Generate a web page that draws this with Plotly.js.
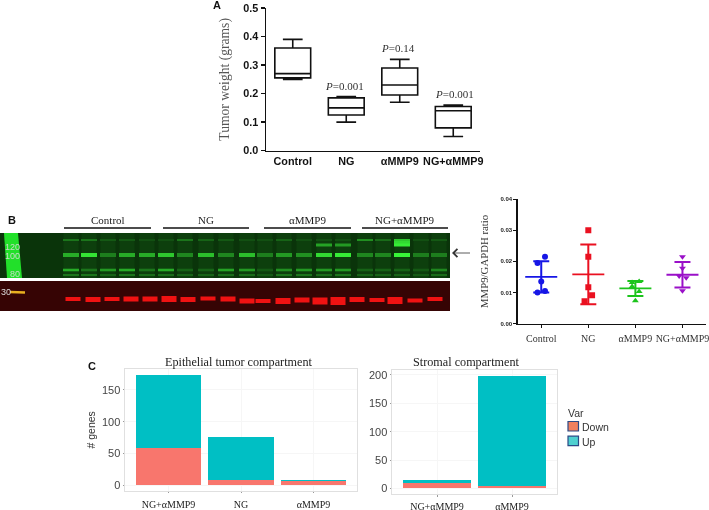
<!DOCTYPE html>
<html><head><meta charset="utf-8">
<script src="https://cdn.plot.ly/plotly-3.0.1.min.js"></script>
<style>html,body{margin:0;padding:0;background:#fff}#c{width:709px;height:510px;filter:blur(0.45px)}</style>
</head><body><div id="c"></div>
<script>
// Panel A
const weightCats = ['Control','NG','αMMP9','NG+αMMP9'];
const wLow = [0.25,0.10,0.17,0.05];
const wQ1 = [0.255,0.125,0.195,0.08];
const wMed = [0.27,0.15,0.23,0.14];
const wQ3 = [0.36,0.185,0.29,0.155];
const wHigh = [0.39,0.19,0.32,0.16];
const pLabels = ['<i>P</i>=0.001','<i>P</i>=0.14','<i>P</i>=0.001'];
const pX = [0.96,1.97,3.02];
const pY = [0.228,0.361,0.198];
// Panel B gels
const groupNames = ['Control','NG','αMMP9','NG+αMMP9'];
const groupStart = [64,163,264,362];
const groupEnd = [151,249,351,448];
const greenLanes = [71,89,108,127,147,166,185,206,226,247,265,284,304,324,343,365,383,402,421,439];
const band118 = [.3,.3,.15,.15,.1,.1,.3,.2,.15,.1,.1,.2,.1,.1,.1,.45,.25,.75,.1,.15];
const band125 = [0,0,0,0,0,0,0,0,0,0,0,0,0,0,0,0,0,.85,0,0];
const band135 = [0,0,0,0,0,0,0,0,0,0,0,0,0,.55,.5,0,0,.95,0,0];
const band100 = [.6,.9,.35,.6,.6,.75,.4,.7,.4,.7,.35,.5,.45,.85,.95,.4,.4,1,.35,.35];
const band80 = [.6,.3,.5,.6,.3,.6,.2,.2,.55,.5,.15,.45,.5,.5,.5,.2,.2,.2,.15,.4];
const band70 = [.3,.3,.2,.3,.25,.25,.2,.2,.25,.25,.15,.3,.3,.25,.3,.2,.2,.2,.15,.25];
const bandRows = [7,9.5,12,22,37,42];
const redLanes = [73,93,112,131,150,169,188,208,228,247,263,283,302,320,338,357,377,395,415,435];
const redRow = [18,18.5,18,18,18,18,18.5,17.5,18,20,20,20,19,20,20,18.5,19,19.5,19.5,18];
const redThick = [4,5,4,5,5,6,5,4,5,5,4,6,5,7,8,5,4,7,4,4];
const ladderX = [4,18,22,7,4];
const ladderY = [0,0,45,45,0];
// Panel B dot plot
const ratioCats = ['Control','NG','αMMP9','NG+αMMP9'];
const ratioVals = [
  [0.0215,0.0195,0.0135,0.0105,0.0100],
  [0.0300,0.0215,0.0117,0.0091,0.0072],
  [0.0135,0.0132,0.0119,0.0103,0.0074],
  [0.0215,0.0178,0.0153,0.0147,0.0106]];
const ratioSpread = [
  [0.08,-0.08,0,0.08,-0.08],
  [0,0,0,0.08,-0.08],
  [0.08,-0.07,-0.07,0.08,0],
  [0,0,-0.07,0.08,0]];
const ratioMean = [0.0150,0.0158,0.0113,0.0157];
const ratioSd = [0.0050,0.0096,0.0024,0.0041];
const ratioColors = ['#1616e6','#ea1020','#1cc41c','#9a10c8'];
const ratioSymbols = ['circle','square','triangle-up','triangle-down'];
// Panel C
const epiCats = ['NG+αMMP9','NG','αMMP9'];
const epiDown = [58,9,7];
const epiUp = [116,67,2];
const stromaCats = ['NG+αMMP9','αMMP9'];
const stromaDown = [9,5];
const stromaUp = [5,193];
const downColor = '#F8766D', upColor = '#00BFC4';
const legendNames = ['Down','Up'];
const legendFills = ['#F0805F','#4FD0D0'];

const W=709,H=510;
const SERIF='"Liberation Serif",serif', SANS='"Liberation Sans",Arial,sans-serif';
const domX=(a,b)=>[a/W,b/W], domY=(t,b)=>[1-b/H,1-t/H];
const traces=[], annotations=[], shapes=[];

// ---- A
traces.push({type:'box',x:weightCats,lowerfence:wLow,q1:wQ1,median:wMed,q3:wQ3,upperfence:wHigh,
  xaxis:'x',yaxis:'y',width:0.67,whiskerwidth:0.55,boxpoints:false,fillcolor:'rgba(0,0,0,0)',
  line:{color:'#111',width:1.6},showlegend:false,hoverinfo:'skip'});
pLabels.forEach((t,i)=>annotations.push({xref:'x',yref:'y',x:pX[i],y:pY[i],text:t,showarrow:false,
  font:{family:SERIF,size:11,color:'#333'}}));

// ---- Gels
const mix=(a,b,t)=>'rgb('+a.map((v,i)=>Math.round(v+(b[i]-v)*t)).join(',')+')';
const dk=[14,62,14], br=[56,245,56];
greenLanes.forEach(c=>traces.push({type:'scatter',mode:'lines',x:[c,c],y:[0,45],xaxis:'x3',yaxis:'y3',
  line:{color:'#0d3f0d',width:15},showlegend:false,hoverinfo:'skip'}));
traces.push({type:'scatter',mode:'lines',x:ladderX,y:ladderY,fill:'toself',fillcolor:'#22e02a',xaxis:'x3',yaxis:'y3',
  line:{color:'#22e02a',width:0},showlegend:false,hoverinfo:'skip'});
const rowWidths=[2,3,3,4,2.6,2];
[band118,band125,band135,band100,band80,band70].forEach((row,r)=>{
  row.forEach((v,i)=>{ if(v<=0) return;
    traces.push({type:'scatter',mode:'lines',x:[greenLanes[i]-8,greenLanes[i]+8],y:[bandRows[r],bandRows[r]],
      xaxis:'x3',yaxis:'y3',line:{color:mix(dk,br,v),width:rowWidths[r]},showlegend:false,hoverinfo:'skip'});
  });
});
redLanes.forEach((c,i)=>traces.push({type:'scatter',mode:'lines',x:[c-7.5,c+7.5],y:[redRow[i],redRow[i]],
  xaxis:'x4',yaxis:'y4',line:{color:'#f01212',width:redThick[i]},showlegend:false,hoverinfo:'skip'}));
traces.push({type:'scatter',mode:'lines',x:[10,25],y:[11,11.5],xaxis:'x4',yaxis:'y4',
  line:{color:'#e8b020',width:2.5},showlegend:false,hoverinfo:'skip'});
shapes.push({type:'rect',xref:'x3 domain',yref:'y3 domain',x0:0,x1:1,y0:0,y1:1,fillcolor:'#0a340a',line:{width:0},layer:'below'});
shapes.push({type:'rect',xref:'x4 domain',yref:'y4 domain',x0:0,x1:1,y0:0,y1:1,fillcolor:'#360404',line:{width:0},layer:'below'});
groupNames.forEach((g,i)=>{
  shapes.push({type:'line',xref:'x3',yref:'paper',x0:groupStart[i],x1:groupEnd[i],y0:1-228/H,y1:1-228/H,line:{color:'#111',width:1.5}});
  annotations.push({xref:'x3',yref:'paper',x:(groupStart[i]+groupEnd[i])/2,y:1-220/H,yanchor:'middle',text:g,showarrow:false,
    font:{family:SERIF,size:11,color:'#222'}});
});
[['120',12,14.5],['100',12,23],['80',15,41]].forEach(l=>annotations.push({xref:'x3',yref:'y3',x:l[1],y:l[2],yanchor:'middle',text:l[0],showarrow:false,
  font:{family:SANS,size:9,color:'#c8dcc8'}}));
annotations.push({xref:'x4',yref:'y4',x:6,y:11,yanchor:'middle',text:'30',showarrow:false,font:{family:SANS,size:9,color:'#ddd'}});
annotations.push({xref:'paper',yref:'paper',x:452/W,y:1-253/H,ax:21,ay:0,axref:'pixel',ayref:'pixel',text:' ',showarrow:true,arrowhead:4,arrowsize:2,arrowwidth:0.8,arrowcolor:'#333'});

// ---- Dot plot
ratioCats.forEach((c,i)=>{
  traces.push({type:'scatter',mode:'markers',x:ratioSpread[i].map(d=>i+d),y:ratioVals[i],xaxis:'x2',yaxis:'y2',
    marker:{color:ratioColors[i],symbol:ratioSymbols[i],size:6},showlegend:false,hoverinfo:'skip'});
  traces.push({type:'scatter',mode:'markers',x:[i],y:[ratioMean[i]],xaxis:'x2',yaxis:'y2',marker:{size:1,color:ratioColors[i]},
    error_y:{type:'data',array:[ratioSd[i]],color:ratioColors[i],thickness:2,width:8},
    error_x:{type:'data',array:[0.34],color:ratioColors[i],thickness:1.8,width:0},
    showlegend:false,hoverinfo:'skip'});
});

// ---- Bars
const bar=(x,y,name,color,xa,ya)=>({type:'bar',x,y,name,xaxis:xa,yaxis:ya,marker:{color,line:{width:0}},width:0.9,showlegend:false,hoverinfo:'skip'});
traces.push(bar(epiCats,epiDown,'Down',downColor,'x5','y5'));
traces.push(bar(epiCats,epiUp,'Up',upColor,'x5','y5'));
traces.push(bar(stromaCats,stromaDown,'Down',downColor,'x6','y6'));
traces.push(bar(stromaCats,stromaUp,'Up',upColor,'x6','y6'));

// ---- Legend drawn beside panel C
annotations.push({xref:'paper',yref:'paper',x:566/W,y:1-413/H,xanchor:'left',yanchor:'middle',text:'Var',showarrow:false,font:{family:SANS,size:10.5,color:'#333'}});
legendNames.forEach((n,i)=>{
  const top=421.5+i*14.7;
  shapes.push({type:'rect',xref:'paper',yref:'paper',x0:568/W,x1:578.5/W,y0:1-top/H,y1:1-(top+9.5)/H,fillcolor:legendFills[i],line:{color:'#2B4A86',width:1.2}});
  annotations.push({xref:'paper',yref:'paper',x:580/W,y:1-(top+5.5)/H,xanchor:'left',yanchor:'middle',text:n,showarrow:false,font:{family:SANS,size:10.5,color:'#333'}});
});

[['A',211,5],['B',6,220],['C',86,366]].forEach(l=>annotations.push({xref:'paper',yref:'paper',x:l[1]/W,y:1-l[2]/H,yanchor:'middle',text:'<b>'+l[0]+'</b>',showarrow:false,
  font:{family:SANS,size:11,color:'#111'}}));
annotations.push({xref:'paper',yref:'paper',x:239/W,y:1-362/H,yanchor:'middle',text:'Epithelial tumor compartment',showarrow:false,font:{family:SERIF,size:12.2,color:'#222'}});
annotations.push({xref:'paper',yref:'paper',x:466/W,y:1-362/H,yanchor:'middle',text:'Stromal compartment',showarrow:false,font:{family:SERIF,size:12.2,color:'#222'}});

const ggx={showline:true,mirror:true,linecolor:'#e0e0e0',linewidth:1,showgrid:true,gridcolor:'#f6f6f6',zeroline:false,ticks:'outside',ticklen:1.5,tickcolor:'#999',
  tickfont:{family:SERIF,size:10,color:'#222'},automargin:false,fixedrange:true,ticklabeloverflow:'allow'};
const ggy={showline:true,mirror:true,linecolor:'#e0e0e0',linewidth:1,showgrid:true,gridcolor:'#f6f6f6',zeroline:false,ticks:'outside',ticklen:1.5,tickcolor:'#999',
  tickfont:{family:SANS,size:11,color:'#444'},automargin:false,fixedrange:true};
const hidden={showticklabels:false,ticks:'',showgrid:false,zeroline:false,showline:false,fixedrange:true};

const layout={
  width:W,height:H,margin:{l:0,r:0,t:0,b:0,pad:0},paper_bgcolor:'#fff',plot_bgcolor:'rgba(0,0,0,0)',barmode:'stack',
  showlegend:false,
  xaxis:{domain:domX(266,480),type:'category',categoryorder:'array',categoryarray:weightCats,range:[-0.5,3.5],showline:true,linecolor:'#111',linewidth:1.5,
    showgrid:false,zeroline:false,ticks:'',tickfont:{family:SANS,size:10.8,color:'#111',weight:700},anchor:'y',fixedrange:true},
  yaxis:{domain:domY(8,150.7),range:[0,0.5],dtick:0.1,tickformat:'.1f',showline:true,linecolor:'#111',linewidth:1.5,showgrid:false,zeroline:false,
    ticks:'outside',ticklen:4,tickwidth:1.5,tickcolor:'#111',tickfont:{family:SANS,size:10.8,color:'#111',weight:700},anchor:'x',
    title:{text:'Tumor weight (grams)',font:{family:SERIF,size:13.6,color:'#555'},standoff:10},fixedrange:true},
  xaxis2:{domain:domX(517.7,706),range:[-0.5,3.5],tickmode:'array',tickvals:[0,1,2,3],ticktext:ratioCats,showline:true,linecolor:'#111',linewidth:1.3,showgrid:false,zeroline:false,
    ticks:'outside',ticklen:3,tickcolor:'#111',tickfont:{family:SERIF,size:10,color:'#333'},anchor:'y2',ticklabelstandoff:2,ticklabeloverflow:'allow',fixedrange:true},
  yaxis2:{domain:domY(199,323.7),range:[0,0.04],dtick:0.01,tickformat:'.2f',showline:true,linecolor:'#111',linewidth:1.3,showgrid:false,zeroline:false,
    ticks:'outside',ticklen:3,tickcolor:'#111',tickfont:{family:SANS,size:6,color:'#222',weight:700},anchor:'x2',
    title:{text:'MMP9/GAPDH ratio',font:{family:SERIF,size:10.8,color:'#333'},standoff:9},fixedrange:true},
  xaxis3:Object.assign({domain:domX(0,450),range:[0,450],anchor:'y3'},hidden),
  yaxis3:Object.assign({domain:domY(233,278),range:[45,0],anchor:'x3'},hidden),
  xaxis4:Object.assign({domain:domX(0,450),range:[0,450],anchor:'y4'},hidden),
  yaxis4:Object.assign({domain:domY(281,311),range:[30,0],anchor:'x4'},hidden),
  xaxis5:Object.assign({},ggx,{domain:domX(125,357),type:'category',categoryorder:'array',categoryarray:epiCats,range:[-0.6,2.6],anchor:'y5',ticklabelstandoff:3}),
  yaxis5:Object.assign({},ggy,{domain:domY(369,490.7),range:[-8.5,183],tickvals:[0,50,100,150],anchor:'x5',
    title:{text:'# genes',font:{family:SANS,size:10.5,color:'#333'},standoff:4}}),
  xaxis6:Object.assign({},ggx,{domain:domX(392,557),type:'category',categoryorder:'array',categoryarray:stromaCats,range:[-0.6,1.6],anchor:'y6',ticklabelstandoff:1}),
  yaxis6:Object.assign({},ggy,{domain:domY(370,494),range:[-10,208.8],tickvals:[0,50,100,150,200],anchor:'x6'}),
  annotations,shapes
};
Plotly.newPlot('c',traces,layout,{displayModeBar:false,staticPlot:true});
</script></body></html>
